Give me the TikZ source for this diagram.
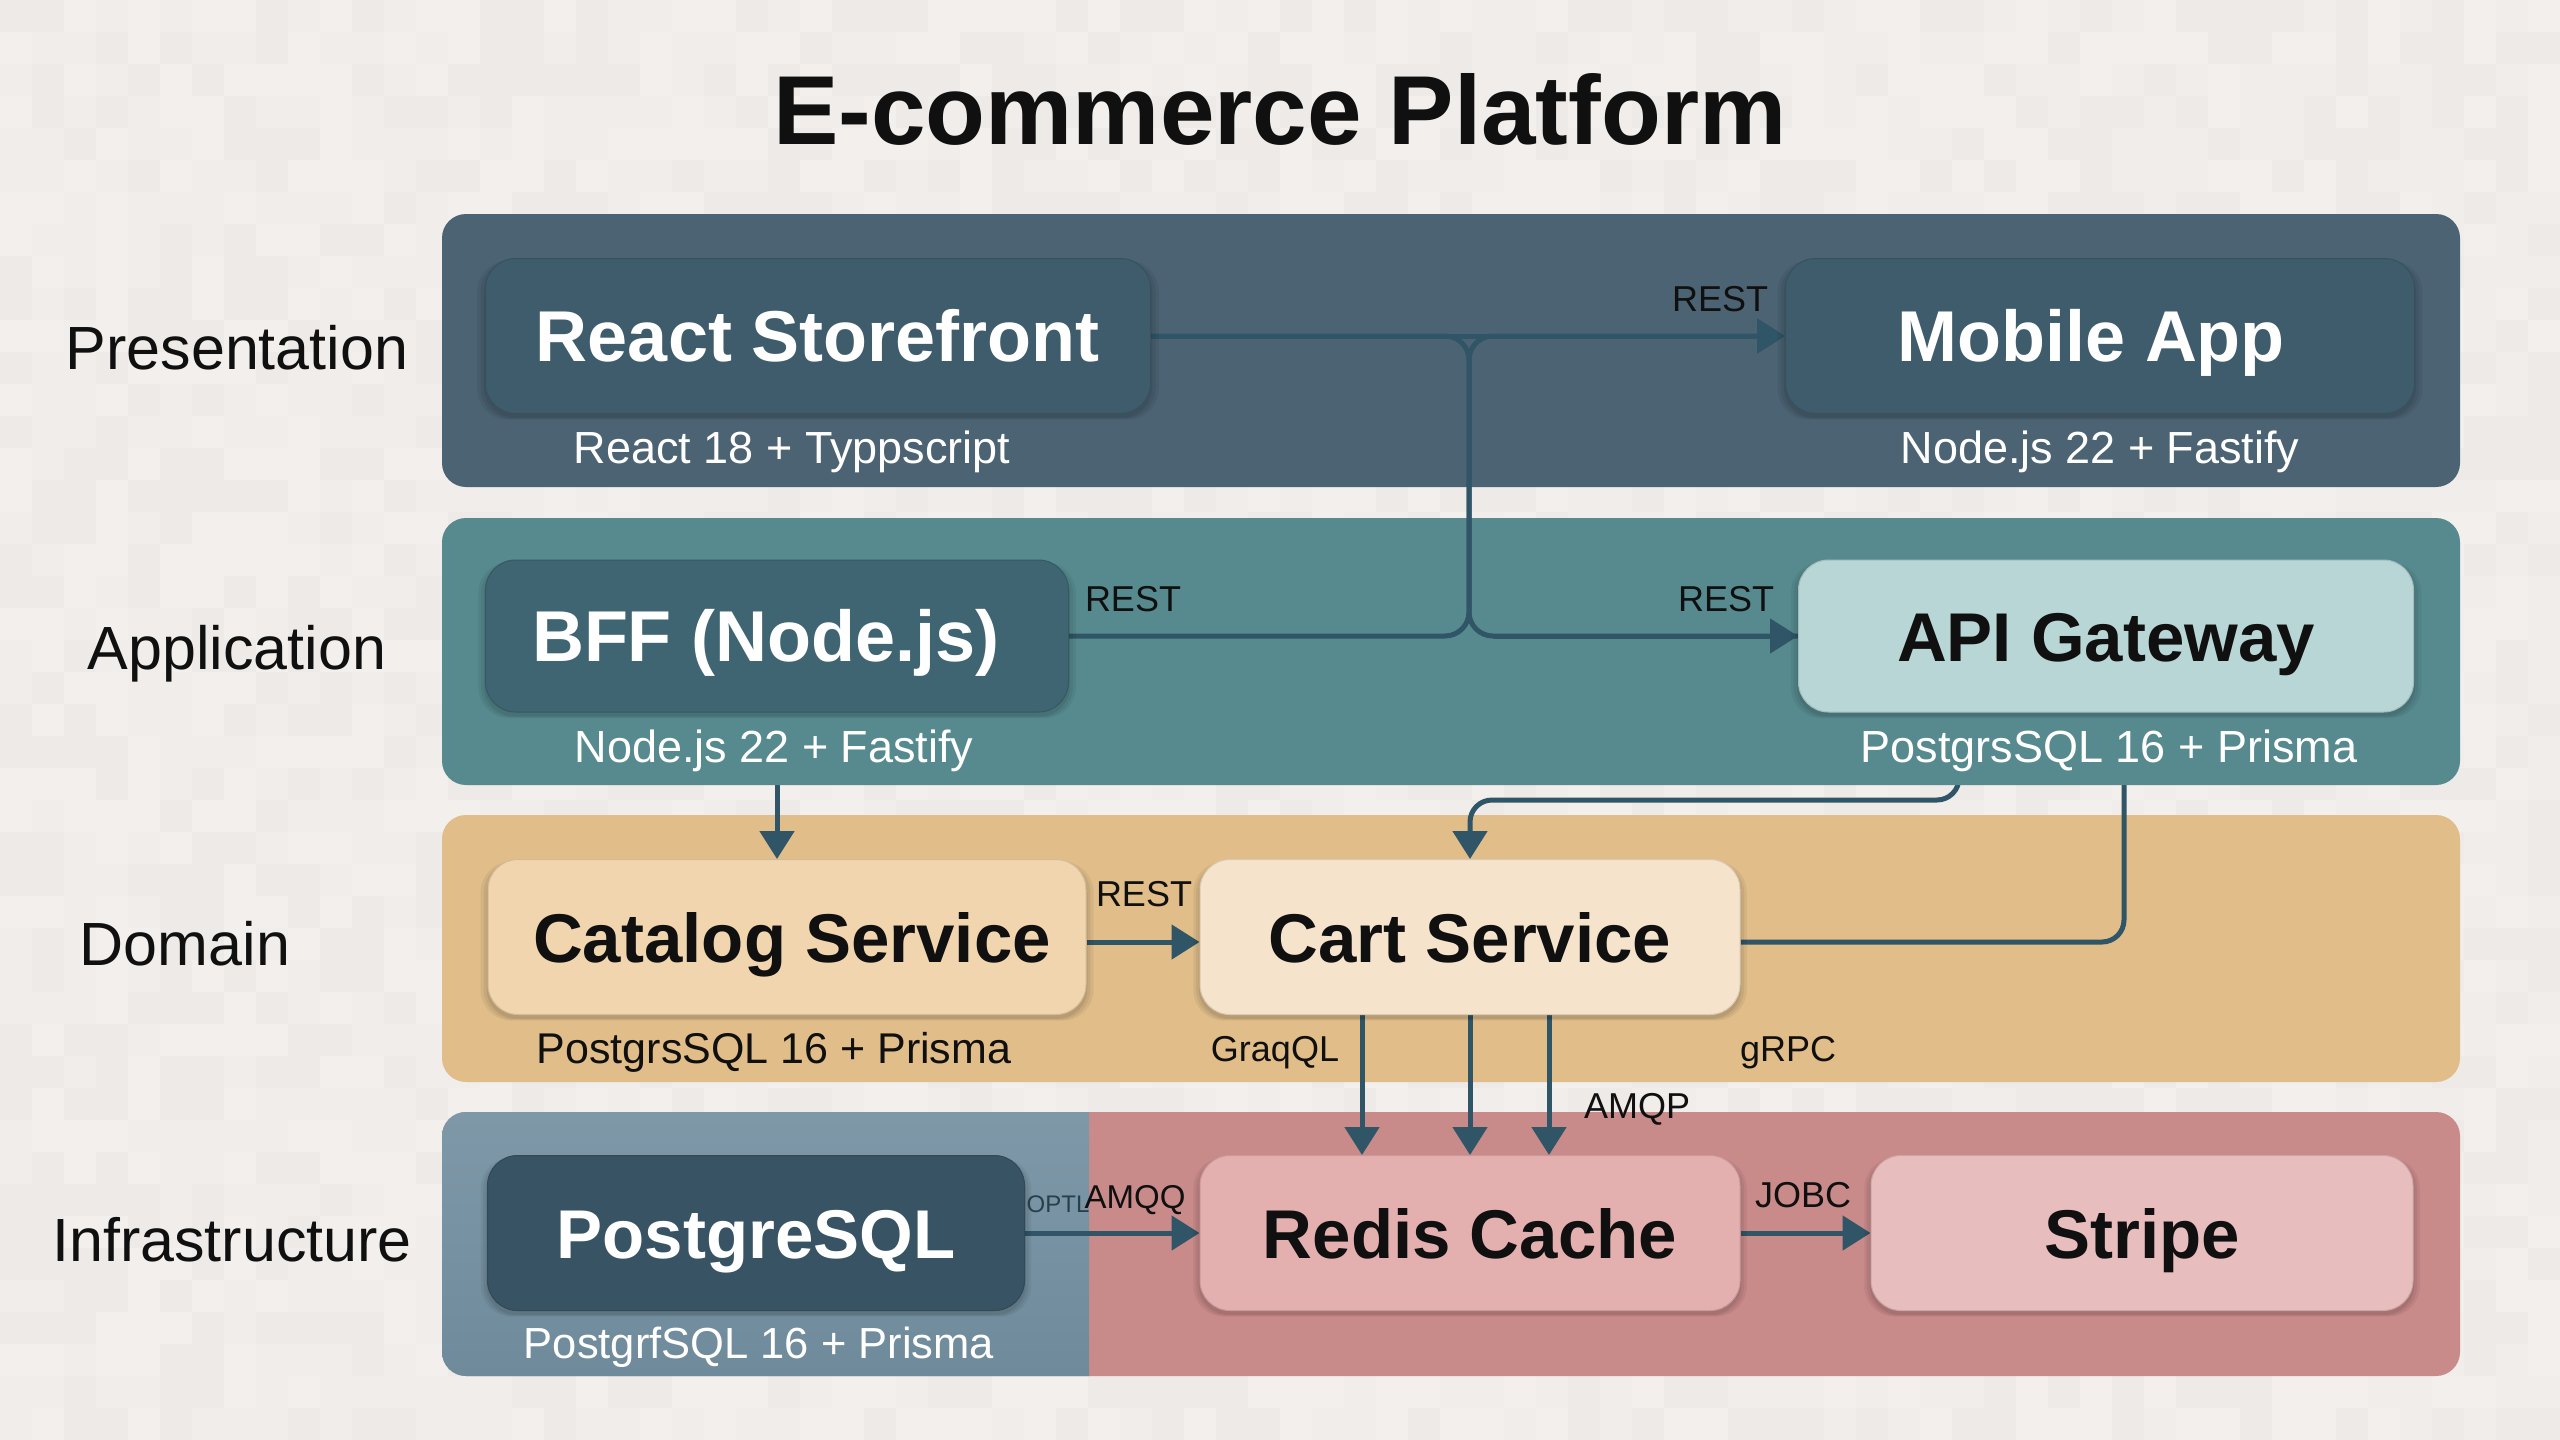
\documentclass[tikz,border=0pt]{standalone}
\usepackage{fontspec}
\setmainfont{Liberation Sans}
\usetikzlibrary{arrows.meta,shadows,calc}
\pgfdeclarelayer{lowband}\pgfdeclarelayer{hidden}\pgfdeclarelayer{upband}\pgfdeclarelayer{conn}
\pgfsetlayers{lowband,hidden,upband,conn,main}
\definecolor{bgc}{HTML}{F2EFEC}
\definecolor{wirec}{HTML}{2F5566}
\definecolor{presb}{HTML}{4B6373}
\definecolor{appb}{HTML}{568A8E}
\definecolor{domb}{HTML}{E0BD89}
\definecolor{pinkb}{HTML}{C98A8A}
\definecolor{infT}{HTML}{7E98A8}
\definecolor{infB}{HTML}{6F8B9B}
\definecolor{ndpres}{HTML}{3E5C6C}
\definecolor{ndbff}{HTML}{3F6472}
\definecolor{ndapi}{HTML}{B9D6D6}
\definecolor{ndcat}{HTML}{F0D5AE}
\definecolor{ndcart}{HTML}{F6E3CC}
\definecolor{ndpg}{HTML}{385364}
\definecolor{ndred}{HTML}{E3B0AF}
\definecolor{ndstr}{HTML}{E8BDBD}
\definecolor{inkc}{HTML}{101010}
\tikzset{
 box/.style={draw=black!12!#1,line width=1pt,fill=#1,rounded corners=30pt,inner sep=0pt,
   text height=50pt,text depth=0pt,font=\bfseries\fontsize{72}{80}\selectfont,
   general shadow={shadow scale=1.025,shadow yshift=-4pt,opacity=.05,fill=black,rounded corners=30pt},
   general shadow={shadow scale=1.015,shadow yshift=-4pt,opacity=.06,fill=black,rounded corners=30pt},
   general shadow={shadow scale=1.005,shadow yshift=-4pt,opacity=.07,fill=black,rounded corners=30pt}},
 darkbox/.style={box=#1,text=white},
 lightbox/.style={box=#1,text=inkc,font=\bfseries\fontsize{69}{76}\selectfont},
 sub/.style={text=white,inner sep=0pt,text height=32pt,text depth=0pt,font=\fontsize{45}{50}\selectfont},
 subd/.style={sub,text=inkc},
 lbl/.style={text=inkc,inner sep=0pt,text height=26pt,text depth=0pt,font=\fontsize{36}{40}\selectfont},
 side/.style={text=inkc,inner sep=0pt,text height=43pt,text depth=0pt,font=\fontsize{61}{66}\selectfont},
 wire/.style={draw=wirec,line width=5pt},
 arr/.style={wire,-{Triangle[length=28pt,width=34pt]}},
 band/.style={rounded corners=24pt},
}
\begin{document}
\begin{tikzpicture}[x=1pt,y=-1pt]
\useasboundingbox (0,0) rectangle (2560,1440);
\pgfmathsetseed{4242}
\begin{pgfonlayer}{lowband}
\fill[bgc] (0,0) rectangle (2560,1440);
\foreach \i in {0,...,79}{\foreach \j in {0,...,44}{
  \pgfmathrandominteger{\c}{98}{100}
  \ifnum\c<100 \fill[bgc!\c!black] ({\i*32},{\j*32}) rectangle ++(32.4,32.4);\fi
}}
\fill[domb,band] (442,815) rectangle (2460,1082);
\fill[pinkb,band] (442,1112) rectangle (2460,1376);
\shade[top color=infT,bottom color=infB] (1089,1112) [rounded corners=24pt] -- (442,1112) -- (442,1376) [sharp corners] -- (1089,1376) -- cycle;
\end{pgfonlayer}
\begin{pgfonlayer}{upband}
\fill[presb,band] (442,214) rectangle (2460,487);
\fill[appb,band] (442,518) rectangle (2460,785);
\end{pgfonlayer}

\node[inner sep=0pt,text=inkc,text height=71pt,text depth=0pt,font=\bfseries\fontsize{98}{104}\selectfont] (title) at (1280,109) {E-commerce Platform};

\node[side] (lpres) at (237,348) {Presentation};
\node[side] (lapp) at (237,648) {Application};
\node[side] (ldom) at (185,944) {Domain};
\node[side] (linf) at (232,1240) {Infrastructure};

\node[darkbox=ndpres,minimum width=665pt,minimum height=155pt] (react) at (818,336) {React Storefront};
\node[darkbox=ndpres,minimum width=629pt,minimum height=155pt] (mobile) at (2100,336) {\hspace*{-18pt}Mobile App};
\node[darkbox=ndbff,minimum width=583pt,minimum height=152pt] (bff) at (777,636) {\hspace*{-22pt}BFF (Node.js)};
\node[lightbox=ndapi,minimum width=615pt,minimum height=152pt] (api) at (2106,636) {API Gateway};
\node[lightbox=ndcat,minimum width=598pt,minimum height=155pt] (catalog) at (787,937) {\hspace*{10pt}Catalog Service};
\node[lightbox=ndcart,minimum width=540pt,minimum height=155pt] (cart) at (1470,937) {Cart Service};
\node[darkbox=ndpg,minimum width=537pt,minimum height=155pt,font=\bfseries\fontsize{69}{76}\selectfont] (pg) at (756,1233) {PostgreSQL};
\node[lightbox=ndred,minimum width=540pt,minimum height=155pt] (redis) at (1470,1233) {Redis Cache};
\node[lightbox=ndstr,minimum width=542pt,minimum height=155pt] (stripe) at (2142,1233) {Stripe};

\node[sub] (s1) at (792,447) {React 18 + Typpscript};
\node[sub] (s2) at (2100,447) {Node.js 22 + Fastify};
\node[sub] (s3) at (774,746) {Node.js 22 + Fastify};
\node[sub] (s4) at (2109,746) {PostgrsSQL 16 + Prisma};
\node[subd,font=\fontsize{43}{48}\selectfont] (s5) at (774,1047) {PostgrsSQL 16 + Prisma};
\node[sub,font=\fontsize{43.5}{48}\selectfont] (s6) at (759,1342) {PostgrfSQL 16 + Prisma};

\node[lbl] (r1) at (1720,298) {REST};
\node[lbl] (r2) at (1133,598) {REST};
\node[lbl] (r3) at (1726,598) {REST};
\node[lbl] (r4) at (1144,893) {REST};
\node[lbl] (g1) at (1275,1048) {GraqQL};
\node[lbl] (g2) at (1788,1048) {gRPC};
\node[lbl] (a1) at (1637,1105) {AMQP};
\node[lbl,font=\fontsize{33}{38}\selectfont] (a2) at (1135,1195) {AMQQ};
\node[lbl,font=\fontsize{24}{26}\selectfont,text=wirec!70!inkc] (o1) at (1058,1199) {OPTL};
\node[lbl] (j1) at (1803,1194) {JOBC};

\coordinate (busx) at (1469,0);
\coordinate (a3x) at (1362,0);
\coordinate (a4x) at (1549,0);
\begin{pgfonlayer}{hidden}
\draw[arr] (bff.south) -- (bff.south |- catalog.north);
\draw[arr,rounded corners=22pt] ([xshift=-147pt]api.south) -- ([xshift=-147pt,yshift=-15pt]api.south |- {(0,785)}) -- ($(cart.north)+(0,-59)$) -- (cart.north);
\draw[wire,rounded corners=22pt] ([yshift=-5pt]cart.east) -- ([xshift=18pt,yshift=-5pt]api.south |- cart.east) -- ([xshift=18pt]api.south);
\end{pgfonlayer}
\begin{pgfonlayer}{conn}
\draw[arr] (react.east) -- (mobile.west);
\draw[wire,rounded corners=24pt] (react.east) -- (react.east -| busx) -- (api.west -| busx) -- (api.west);
\draw[arr,rounded corners=24pt] (bff.east) -- (bff.east -| busx) -- (mobile.west -| busx) -- (mobile.west);
\draw[arr] (api.west -| busx) ++(24pt,0) -- (api.west);
\draw[arr] ([yshift=-5pt]catalog.east) -- ([yshift=-5pt]cart.west);
\draw[arr] (cart.south -| a3x) -- (redis.north -| a3x);
\draw[arr] (cart.south) -- (redis.north);
\draw[arr] (cart.south -| a4x) -- (redis.north -| a4x);
\draw[arr] (pg.east) -- (redis.west);
\draw[arr] (redis.east) -- (stripe.west);
\end{pgfonlayer}
\end{tikzpicture}
\end{document}
